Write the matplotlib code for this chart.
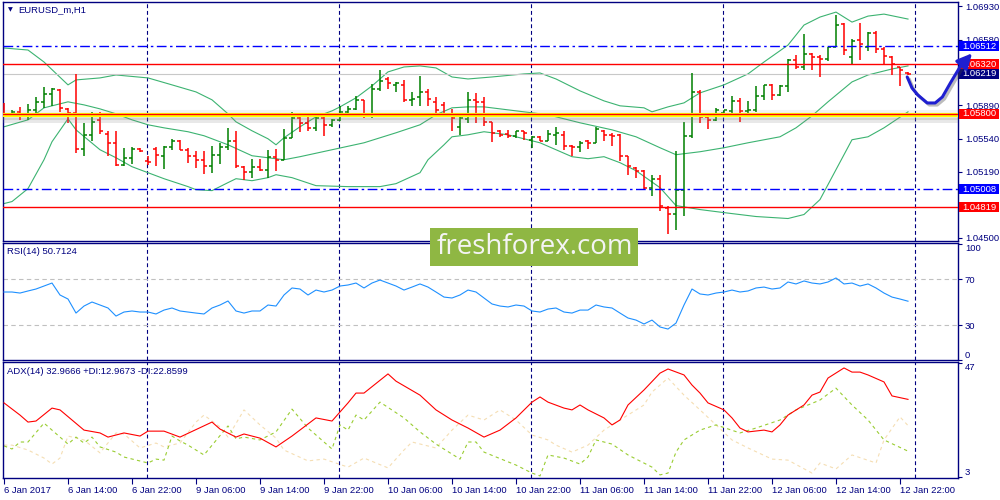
import matplotlib
matplotlib.use('Agg')
import matplotlib.pyplot as plt
import matplotlib.patheffects as pe
import matplotlib.transforms as mtransforms
from matplotlib.patches import Rectangle

# EURUSD H1 bars, 6 Jan 06:00 .. 12 Jan 23:00
opens = [1.05807, 1.05800, 1.05817, 1.05789, 1.05842, 1.05922, 1.06009, 1.06051, 1.05852, 1.05807,
         1.05430, 1.05580, 1.05730, 1.05590, 1.05492, 1.05262, 1.05335, 1.05430, 1.05300, 1.05430,
         1.05353, 1.05451, 1.05520, 1.05423, 1.05353, 1.05318, 1.05248, 1.05370, 1.05451, 1.05510,
         1.05242, 1.05186, 1.05242, 1.05214, 1.05346, 1.05311, 1.05545, 1.05755, 1.05709, 1.05650,
         1.05755, 1.05685, 1.05730, 1.05824, 1.05849, 1.05947, 1.05779, 1.06058, 1.06163, 1.06100,
         1.06104, 1.05940, 1.05974, 1.06034, 1.05929, 1.05894, 1.05779, 1.05667, 1.05744, 1.05946,
         1.05929, 1.05719, 1.05615, 1.05590, 1.05569, 1.05622, 1.05527, 1.05562, 1.05520, 1.05580,
         1.05580, 1.05465, 1.05451, 1.05510, 1.05492, 1.05625, 1.05580, 1.05580, 1.05353, 1.05231,
         1.05196, 1.05021, 1.05116, 1.04812, 1.04753, 1.04997, 1.05569, 1.06034, 1.05766, 1.05738,
         1.05808, 1.05825, 1.05930, 1.05825, 1.05842, 1.05982, 1.06104, 1.05999, 1.06094, 1.06366,
         1.06289, 1.06429, 1.06394, 1.06373, 1.06505, 1.06743, 1.06400, 1.06575, 1.06505, 1.06645,
         1.06477, 1.06401, 1.06296, 1.06233]
highs = [1.05911, 1.05835, 1.05876, 1.05904, 1.05974, 1.06079, 1.06068, 1.06058, 1.05859, 1.06218,
         1.05702, 1.05814, 1.05814, 1.05625, 1.05615, 1.05440, 1.05451, 1.05440, 1.05360, 1.05451,
         1.05458, 1.05534, 1.05527, 1.05440, 1.05405, 1.05405, 1.05465, 1.05492, 1.05650, 1.05615,
         1.05255, 1.05325, 1.05325, 1.05423, 1.05430, 1.05643, 1.05814, 1.05779, 1.05765, 1.05779,
         1.05779, 1.05744, 1.05884, 1.05877, 1.05988, 1.05947, 1.06114, 1.06261, 1.06184, 1.06138,
         1.06156, 1.06034, 1.06198, 1.06058, 1.05981, 1.05919, 1.05849, 1.05765, 1.06033, 1.06016,
         1.05974, 1.05719, 1.05632, 1.05632, 1.05625, 1.05625, 1.05569, 1.05569, 1.05632, 1.05660,
         1.05615, 1.05475, 1.05510, 1.05527, 1.05660, 1.05632, 1.05597, 1.05590, 1.05360, 1.05241,
         1.05213, 1.05161, 1.05161, 1.04829, 1.05405, 1.05719, 1.06225, 1.06045, 1.05773, 1.05860,
         1.05842, 1.05989, 1.05964, 1.05930, 1.06094, 1.06104, 1.06115, 1.06104, 1.06373, 1.06418,
         1.06638, 1.06443, 1.06418, 1.06505, 1.06837, 1.06750, 1.06582, 1.06750, 1.06662, 1.06673,
         1.06505, 1.06408, 1.06296, 1.06244]
lows = [1.05772, 1.05765, 1.05737, 1.05730, 1.05800, 1.05859, 1.05883, 1.05824, 1.05702, 1.05388,
        1.05353, 1.05510, 1.05590, 1.05353, 1.05255, 1.05248, 1.05276, 1.05395, 1.05266, 1.05255,
        1.05220, 1.05416, 1.05416, 1.05283, 1.05231, 1.05168, 1.05178, 1.05276, 1.05423, 1.05231,
        1.05109, 1.05126, 1.05196, 1.05126, 1.05196, 1.05311, 1.05545, 1.05605, 1.05622, 1.05615,
        1.05570, 1.05660, 1.05720, 1.05807, 1.05835, 1.05755, 1.05755, 1.06044, 1.06058, 1.06034,
        1.05929, 1.05884, 1.05884, 1.05884, 1.05800, 1.05772, 1.05615, 1.05580, 1.05702, 1.05702,
        1.05674, 1.05500, 1.05555, 1.05545, 1.05545, 1.05527, 1.05440, 1.05510, 1.05510, 1.05475,
        1.05423, 1.05353, 1.05395, 1.05430, 1.05492, 1.05520, 1.05465, 1.05301, 1.05161, 1.05126,
        1.05004, 1.04934, 1.04777, 1.04543, 1.04578, 1.04725, 1.05545, 1.05703, 1.05640, 1.05720,
        1.05773, 1.05773, 1.05710, 1.05766, 1.05814, 1.05940, 1.05940, 1.05989, 1.06034, 1.06268,
        1.06261, 1.06261, 1.06184, 1.06359, 1.06505, 1.06418, 1.06313, 1.06366, 1.06464, 1.06443,
        1.06313, 1.06209, 1.06094, 1.06209]
closes = [1.05800, 1.05817, 1.05789, 1.05842, 1.05922, 1.06009, 1.06058, 1.05859, 1.05807, 1.05430,
          1.05580, 1.05719, 1.05625, 1.05492, 1.05262, 1.05335, 1.05430, 1.05412, 1.05290, 1.05370,
          1.05451, 1.05520, 1.05423, 1.05353, 1.05318, 1.05255, 1.05370, 1.05451, 1.05510, 1.05248,
          1.05186, 1.05242, 1.05214, 1.05346, 1.05311, 1.05545, 1.05755, 1.05709, 1.05650, 1.05755,
          1.05685, 1.05730, 1.05824, 1.05849, 1.05947, 1.05779, 1.06058, 1.06149, 1.06128, 1.06120,
          1.05940, 1.05954, 1.06034, 1.05954, 1.05835, 1.05779, 1.05755, 1.05755, 1.05946, 1.05929,
          1.05719, 1.05604, 1.05580, 1.05569, 1.05615, 1.05604, 1.05555, 1.05520, 1.05590, 1.05600,
          1.05465, 1.05451, 1.05492, 1.05492, 1.05639, 1.05580, 1.05569, 1.05353, 1.05248, 1.05196,
          1.05021, 1.05116, 1.04829, 1.04753, 1.04997, 1.05569, 1.06033, 1.05766, 1.05738, 1.05842,
          1.05835, 1.05930, 1.05825, 1.05842, 1.05982, 1.06104, 1.05999, 1.06094, 1.06366, 1.06289,
          1.06429, 1.06394, 1.06373, 1.06505, 1.06732, 1.06470, 1.06568, 1.06530, 1.06645, 1.06477,
          1.06408, 1.06324, 1.06261, 1.06219]

# Bollinger bands (bar index, price)
bb_up_x = [0, 3, 5, 8, 9, 12, 14, 18, 21, 24, 26, 28, 29, 31, 33, 34, 35, 37, 39, 41, 42, 44, 46, 48,
           50, 52, 54, 56, 58, 61, 65, 67, 69, 72, 75, 77, 80, 81, 83, 85, 87, 90, 93, 95, 98, 100,
           102, 104, 106, 108, 110, 113]
bb_up = [1.06491, 1.06470, 1.06344, 1.06104, 1.06156, 1.06177, 1.06208, 1.06177, 1.06104, 1.06030,
         1.05947, 1.05800, 1.05716, 1.05622, 1.05538, 1.05475, 1.05549, 1.05664, 1.05769, 1.05831,
         1.05873, 1.05968, 1.06093, 1.06240, 1.06292, 1.06303, 1.06282, 1.06187, 1.06166, 1.06187,
         1.06219, 1.06229, 1.06166, 1.06041, 1.05936, 1.05884, 1.05863, 1.05821, 1.05873, 1.05915,
         1.06020, 1.06104, 1.06219, 1.06344, 1.06522, 1.06732, 1.06816, 1.06868, 1.06763, 1.06826,
         1.06847, 1.06795]
bb_mid_x = [0, 3, 5, 8, 10, 12, 14, 16, 18, 20, 23, 25, 28, 31, 35, 37, 41, 45, 49, 52, 54, 56, 58,
            60, 65, 68, 72, 76, 79, 82, 84, 87, 90, 93, 97, 99, 101, 103, 106, 108, 111, 113]
bb_mid = [1.05664, 1.05737, 1.05863, 1.05926, 1.05894, 1.05852, 1.05800, 1.05737, 1.05685, 1.05653,
          1.05612, 1.05570, 1.05475, 1.05360, 1.05318, 1.05350, 1.05423, 1.05496, 1.05601, 1.05685,
          1.05790, 1.05863, 1.05873, 1.05873, 1.05821, 1.05790, 1.05706, 1.05632, 1.05559, 1.05444,
          1.05371, 1.05402, 1.05444, 1.05496, 1.05559, 1.05653, 1.05779, 1.05926, 1.06135, 1.06208,
          1.06271, 1.06303]
bb_low_x = [0, 1, 3, 5, 6, 8, 9, 12, 14, 16, 18, 20, 23, 24, 26, 28, 29, 31, 33, 34, 36, 39, 43, 47,
            49, 52, 53, 55, 56, 58, 60, 63, 67, 71, 73, 75, 77, 79, 82, 84, 87, 90, 94, 98, 100, 102,
            104, 106, 108, 110, 113]
bb_low = [1.04858, 1.04879, 1.05015, 1.05318, 1.05507, 1.05748, 1.05632, 1.05423, 1.05339, 1.05245,
          1.05182, 1.05119, 1.05036, 1.05004, 1.04994, 1.05078, 1.05119, 1.05098, 1.05130, 1.05161,
          1.05130, 1.05046, 1.05036, 1.05036, 1.05067, 1.05182, 1.05318, 1.05475, 1.05559, 1.05580,
          1.05612, 1.05580, 1.05496, 1.05350, 1.05329, 1.05350, 1.05287, 1.05203, 1.05025, 1.04837,
          1.04795, 1.04763, 1.04722, 1.04701, 1.04743, 1.04900, 1.05214, 1.05528, 1.05559, 1.05653,
          1.05821]

# horizontal levels
levels_blue = [1.06512, 1.05008]
levels_red = [1.06320, 1.04819]
support = 1.05800
last_price = 1.06219

# RSI(14), one value per bar
rsi = [58.7, 58.7, 57.8, 59.6, 61.3, 63.9, 66.5, 56.1, 52.6, 40.4,
       46.5, 50.0, 47.4, 44.8, 37.8, 41.3, 42.2, 41.3, 41.3, 39.6,
       43.0, 44.8, 42.2, 41.3, 40.4, 39.6, 44.8, 47.4, 50.9, 42.2,
       40.4, 42.2, 42.2, 47.4, 46.5, 56.1, 62.2, 61.3, 56.1, 60.4,
       58.7, 60.4, 63.9, 64.8, 66.5, 62.2, 66.5, 69.1, 66.5, 63.9,
       60.4, 63.0, 65.7, 63.0, 58.7, 54.3, 53.5, 56.1, 60.4, 58.7,
       53.5, 48.3, 46.5, 45.7, 47.4, 46.5, 42.2, 41.3, 43.9, 44.8,
       41.3, 40.4, 43.0, 43.0, 47.4, 45.7, 44.8, 40.4, 36.1, 34.3,
       30.9, 34.3, 28.3, 26.5, 31.7, 47.4, 61.3, 57.0, 56.1, 57.8,
       58.7, 60.4, 58.7, 59.6, 62.2, 63.0, 61.3, 62.2, 67.4, 65.7,
       68.3, 66.5, 65.7, 67.4, 70.9, 65.7, 66.5, 63.9, 65.7, 62.2,
       57.8, 54.3, 52.6, 50.7124]

# ADX(14) and the two DI lines (bar index, value)
adx_x = [0, 2, 3, 4, 6, 7, 10, 12, 13, 15, 17, 18, 20, 22, 26, 27, 29, 30, 32, 34, 36, 39, 41, 43,
         44, 45, 48, 49, 52, 54, 56, 58, 60, 62, 64, 66, 67, 68, 70, 71, 72, 73, 75, 76, 77, 78, 80,
         82, 83, 85, 86, 87, 88, 90, 91, 92, 93, 95, 96, 97, 98, 100, 101, 102, 103, 105, 106, 107,
         108, 110, 111, 113]
adx = [31.6, 26.9, 24.2, 24.6, 29.6, 28.9, 21.1, 20.0, 18.4, 20.0, 18.8, 20.7, 20.7, 18.4, 24.2,
       21.5, 18.4, 19.6, 18.0, 14.6, 18.8, 25.8, 24.6, 31.6, 35.4, 35.4, 42.8, 40.0, 34.6, 28.9,
       25.0, 21.9, 18.4, 21.1, 25.8, 31.9, 33.9, 31.9, 29.6, 28.9, 30.8, 28.9, 25.8, 23.1, 25.0,
       30.8, 36.6, 43.1, 44.7, 42.4, 38.5, 35.4, 31.6, 28.9, 25.8, 21.9, 20.4, 21.1, 20.4, 23.1,
       26.9, 30.8, 34.6, 35.8, 41.2, 45.1, 43.5, 43.5, 42.4, 39.7, 34.3, 32.9666]
pdi_x = [0, 1, 2, 3, 5, 7, 8, 9, 10, 11, 12, 14, 15, 18, 19, 20, 21, 22, 23, 25, 28, 29, 30, 32, 34,
         36, 38, 41, 42, 43, 44, 45, 47, 50, 52, 54, 57, 58, 59, 60, 64, 66, 67, 68, 70, 72, 73, 74,
         76, 78, 81, 82, 83, 84, 85, 87, 89, 92, 94, 97, 99, 102, 104, 106, 108, 110, 113]
pdi = [15.0, 13.8, 16.5, 16.5, 23.8, 18.4, 15.7, 18.4, 16.1, 18.4, 14.6, 12.6, 10.7, 8.4, 9.9, 9.5,
       18.8, 16.9, 15.3, 11.5, 22.7, 17.7, 18.4, 17.3, 20.4, 29.2, 21.9, 13.8, 23.1, 21.1, 26.9,
       25.0, 31.9, 25.8, 20.4, 15.7, 9.9, 16.5, 16.5, 12.6, 7.6, 4.5, 3.4, 11.5, 10.3, 8.0, 10.7,
       17.3, 15.7, 11.5, 6.8, 3.8, 4.5, 12.6, 17.3, 21.1, 23.1, 20.0, 21.9, 25.0, 28.9, 32.7, 37.3,
       30.8, 25.0, 17.3, 12.9673]
mdi_x = [0, 1, 3, 5, 6, 7, 8, 10, 12, 14, 15, 17, 19, 20, 22, 24, 25, 27, 28, 30, 32, 34, 35, 38,
         40, 43, 45, 48, 50, 51, 54, 56, 58, 60, 62, 64, 66, 68, 69, 71, 73, 75, 77, 80, 81, 83, 85,
         87, 89, 91, 93, 96, 98, 101, 102, 104, 106, 109, 110, 112, 113]
mdi = [15.3, 15.3, 13.4, 10.3, 8.0, 10.3, 18.8, 17.3, 12.3, 20.0, 19.6, 14.2, 16.1, 14.6, 16.1,
       24.2, 26.9, 22.3, 18.4, 28.9, 23.1, 18.0, 13.4, 9.2, 9.9, 6.8, 10.3, 6.5, 13.4, 16.5, 14.2,
       21.1, 26.9, 25.0, 28.9, 25.0, 19.2, 17.3, 15.3, 12.6, 15.3, 21.1, 25.0, 30.8, 35.8, 41.2,
       34.6, 28.9, 23.1, 17.3, 14.2, 9.9, 9.5, 4.5, 8.4, 6.1, 11.5, 8.4, 17.3, 26.2, 22.8599]

# time axis
time_ticks = [0, 8, 16, 24, 32, 40, 48, 56, 64, 72, 80, 88, 96, 104, 112]
time_labels = ['6 Jan 2017', '6 Jan 14:00', '6 Jan 22:00', '9 Jan 06:00', '9 Jan 14:00',
               '9 Jan 22:00', '10 Jan 06:00', '10 Jan 14:00', '10 Jan 22:00', '11 Jan 06:00',
               '11 Jan 14:00', '11 Jan 22:00', '12 Jan 06:00', '12 Jan 14:00', '12 Jan 22:00']
day_starts = [18, 42, 66, 90, 114]

price_ticks = [1.04500, 1.05190, 1.05540, 1.05890, 1.06580, 1.06930]

# hand drawn forecast arrow (bar index, price)
arrow_x = [112.9, 113.5, 114.2, 115.4, 116.4, 117.3, 118.3, 119.5, 120.3]
arrow_y = [1.06187, 1.06071, 1.06000, 1.05914, 1.05914, 1.05977, 1.06124, 1.06292, 1.06390]

NAVY = '#000080'
BULL = '#008000'
BEAR = '#FF0000'
BAND = '#3CB371'
FONT = 'Liberation Sans'
FS = 6.8

plt.rcParams['font.family'] = FONT

fig = plt.figure(figsize=(10, 5), dpi=100)
ax = fig.add_axes([0.003, 0.518, 0.955, 0.478])
ax_rsi = fig.add_axes([0.003, 0.280, 0.955, 0.234])
ax_adx = fig.add_axes([0.003, 0.044, 0.955, 0.232])

for a in (ax, ax_rsi, ax_adx):
  a.set_xlim(-0.125, 119.25)
  for s in a.spines.values():
    s.set_color(NAVY)
    s.set_linewidth(1.0)
  a.yaxis.tick_right()
  a.tick_params(axis='y', direction='out', length=3, width=0.8, colors=NAVY,
                labelsize=FS, pad=2, labelcolor=NAVY)
  for d in day_starts:
    a.axvline(d - 0.1, color=NAVY, lw=0.8, ls=(0, (3.5, 2.5)), zorder=1)

# ---- price panel
ax.set_ylim(1.04465, 1.06974)
ax.set_xticks([])
ax.set_yticks(price_ticks)
ax.set_yticklabels(['%.5f' % p for p in price_ticks])

ax.plot(bb_up_x, bb_up, color=BAND, lw=0.8, zorder=2)
ax.plot(bb_mid_x, bb_mid, color=BAND, lw=0.8, zorder=2)
ax.plot(bb_low_x, bb_low, color=BAND, lw=0.8, zorder=2)

for i in range(len(opens)):
  c = BULL if closes[i] >= opens[i] else BEAR
  ax.vlines(i, lows[i], highs[i], color=c, lw=1.1, zorder=3)
  ax.hlines(opens[i], i - 0.4, i, color=c, lw=1.1, zorder=3)
  ax.hlines(closes[i], i, i + 0.4, color=c, lw=1.1, zorder=3)

ax.axhline(last_price, color='#C8C8C8', lw=0.8, zorder=2)
for lv in levels_red:
  ax.axhline(lv, color='#FF0000', lw=1.0, zorder=4)
for lv in levels_blue:
  ax.axhline(lv, color='#0000FF', lw=1.0, ls=(0, (7, 2.5, 1.8, 2.5)), zorder=4)

# support zone: yellow band with a soft grey shadow
ax.axhline(support - 0.00060, color='#808080', lw=3.6, alpha=0.18, zorder=4.6)
ax.axhline(support - 0.00045, color='#808080', lw=2.2, alpha=0.22, zorder=4.7)
ax.axhline(support + 0.00030, color='#808080', lw=2.2, alpha=0.10, zorder=4.7)
ax.axhline(support - 0.00017, color='#FFFF00', lw=3.0, zorder=5)
ax.axhline(support + 0.00003, color='#FF0000', lw=1.0, zorder=5)

# price labels on the axis
trans = mtransforms.blended_transform_factory(ax.transAxes, ax.transData)
box_h = 0.00105
for p, col in [(levels_blue[0], '#0000FF'), (levels_red[0], '#FF0000'), (last_price, '#000080'),
               (support, '#FF0000'), (levels_blue[1], '#0000FF'), (levels_red[1], '#FF0000')]:
  ax.add_patch(Rectangle((1.0015, p - box_h / 2), 0.0419, box_h, transform=trans,
                         facecolor=col, edgecolor='none', clip_on=False, zorder=6))
  ax.text(1.0225, p, '%.5f' % p, transform=trans, ha='center', va='center',
          color='white', fontsize=FS, clip_on=False, zorder=7)

# forecast arrow
shadow = [pe.SimpleLineShadow(offset=(1.5, -1.5), shadow_color='#404040', alpha=0.35), pe.Normal()]
ax.plot(arrow_x, arrow_y, color='#1F1FD0', lw=2.2, solid_capstyle='round',
        clip_on=False, zorder=8, path_effects=shadow)
ax.annotate('', xy=(121.0, 1.06435), xytext=(arrow_x[-2], arrow_y[-2]),
            arrowprops=dict(arrowstyle='-|>,head_length=0.9,head_width=0.45', color='#1F1FD0',
                            lw=2.2, shrinkA=0, shrinkB=0),
            annotation_clip=False, zorder=8)

# ---- RSI panel
ax_rsi.set_ylim(-0.4, 101.3)
ax_rsi.set_xticks([])
ax_rsi.axhline(70, color='#C0C0C0', lw=0.8, ls=(0, (4, 3)), zorder=1)
ax_rsi.axhline(30, color='#C0C0C0', lw=0.8, ls=(0, (4, 3)), zorder=1)
ax_rsi.plot(range(len(rsi)), rsi, color='#1E90FF', lw=0.8, zorder=3)
ax_rsi.set_yticks([0, 30, 70, 100])
ax_rsi.set_yticklabels(['0', '30', '70', '100'])
lab = ax_rsi.get_yticklabels()
lab[0].set_va('bottom')
lab[3].set_va('top')

# ---- ADX panel
ax_adx.set_ylim(2.6, 47.4)
ax_adx.plot(mdi_x, mdi, color='#F5DEB3', lw=0.8, ls=(0, (3, 3)), zorder=2)
ax_adx.plot(pdi_x, pdi, color='#9ACD32', lw=0.8, ls=(0, (3, 3)), zorder=2)
ax_adx.plot(adx_x, adx, color='#FF0000', lw=0.8, zorder=3)
ax_adx.set_yticks([3, 47])
ax_adx.set_yticklabels(['3', '47'])
lab = ax_adx.get_yticklabels()
lab[0].set_va('bottom')
lab[1].set_va('top')
ax_adx.set_xticks(time_ticks)
ax_adx.set_xticklabels(time_labels, ha='left')
ax_adx.tick_params(axis='x', direction='out', length=4, width=0.8, colors=NAVY,
                   labelsize=FS, pad=1.5, labelcolor=NAVY)

# panel captions
fig.text(0.008, 0.980, '\u25bc', fontsize=4.5, color=NAVY, va='center', family='DejaVu Sans')
fig.text(0.018, 0.980, 'EURUSD_m,H1', fontsize=FS, color=NAVY, va='center')
fig.text(0.007, 0.4966, 'RSI(14) 50.7124', fontsize=FS, color=NAVY, va='center')
fig.text(0.007, 0.2566, 'ADX(14) 32.9666 +DI:12.9673 -DI:22.8599', fontsize=FS, color=NAVY, va='center')

# watermark
fig.add_artist(Rectangle((0.430, 0.468), 0.208, 0.076, transform=fig.transFigure,
                         facecolor='#8FB743', edgecolor='none', zorder=5))
fig.text(0.5345, 0.507, 'freshforex.com', fontsize=20, color='#F4F4F4', ha='center', va='center',
         family='Open Sans', zorder=6)

fig.savefig('out.png', dpi=100)
